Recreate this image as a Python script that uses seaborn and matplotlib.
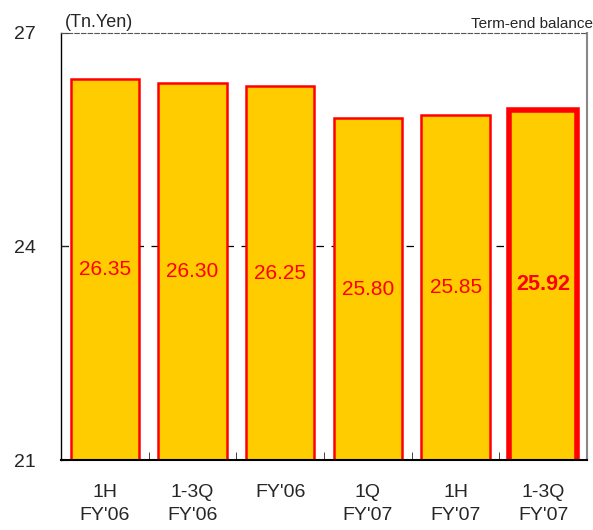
import pandas as pd
import matplotlib
matplotlib.use("Agg")
import matplotlib.pyplot as plt
import seaborn as sns

# saldo no fim de cada periodo
periodos = ["1H\nFY'06", "1-3Q\nFY'06", "FY'06", "1Q\nFY'07", "1H\nFY'07", "1-3Q\nFY'07"]
saldos = [26.35, 26.30, 26.25, 25.80, 25.85, 25.92]
rotulos = ["26.35", "26.30", "26.25", "25.80", "25.85", "25.92"]

df = pd.DataFrame({"periodo": periodos, "saldo": saldos})

sns.set_style("white")
plt.rcParams["font.family"] = ["Liberation Sans", "DejaVu Sans"]

fig = plt.figure(figsize=(5.93, 5.30), dpi=100)
ax = fig.add_axes([0.103, 0.132, 0.887, 0.806])

sns.barplot(data=df, x="periodo", y="saldo", color="#FFCC00",
            edgecolor="#FF0000", linewidth=1.8, width=0.78, saturation=1,
            ax=ax)
ultima = ax.patches[-1]
ultima.set_linewidth(4)

ax.set_ylim(21, 27)
ax.set_yticks([21, 24, 27])
ax.set_xlim(-0.5, len(periodos) - 0.5)
ax.set_xlabel("")
ax.set_ylabel("")
ax.axhline(24, color="black", linestyle=(0, (6, 6)), linewidth=0.9, zorder=0)

for i, (v, r) in enumerate(zip(saldos, rotulos)):
    peso = "bold" if i == len(saldos) - 1 else "normal"
    ax.text(i, (21 + v) / 2, r, ha="center", va="center", color="#FF0000",
            fontsize=15.5 if peso == "bold" else 15, fontweight=peso)

ax.spines["top"].set_linestyle((0, (4, 2)))
ax.spines["top"].set_color("#555555")
ax.spines["right"].set_color("#888888")
ax.spines["right"].set_linewidth(1.5)
ax.spines["left"].set_color("black")
ax.spines["bottom"].set_color("black")
ax.spines["left"].set_linewidth(1)
ax.spines["bottom"].set_linewidth(1.5)

ax.tick_params(axis="y", direction="in", length=5, pad=18, labelsize=14, left=True)
ax.tick_params(axis="x", length=0, pad=17, labelsize=14)
ax.set_xticks(range(len(periodos)))
for t in ax.get_xticklabels():
    t.set_linespacing(1.5)
    t.set_va("top")
ax.set_xticks([i + 0.5 for i in range(len(periodos) - 1)], minor=True)
ax.tick_params(axis="x", which="minor", direction="in", length=6, bottom=True)

ax.text(0.007, 1.005, "(Tn.Yen)", transform=ax.transAxes, fontsize=13, va="bottom")
ax.text(1.012, 1.005, "Term-end balance", transform=ax.transAxes, fontsize=11,
        va="bottom", ha="right")

fig.savefig("out.png", dpi=100)
